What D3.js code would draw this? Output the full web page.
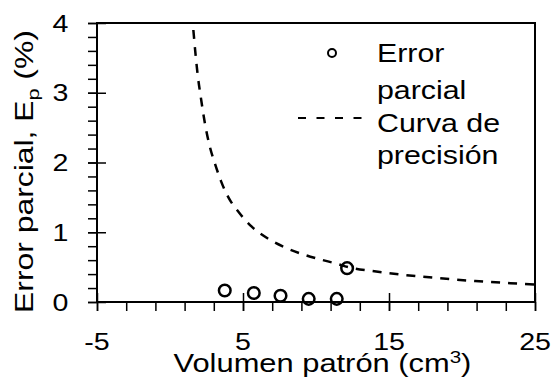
<!DOCTYPE html>
<html><head><meta charset="utf-8">
<script src="https://cdn.jsdelivr.net/npm/d3@7"></script>
<style>
html,body{margin:0;padding:0;background:#fff;}
text{font-family:"Liberation Sans",Arial,sans-serif;fill:#000;}
</style></head>
<body><svg id="c" width="559" height="384"></svg>
<script>
// Data
const volumes = [3.75, 5.74, 7.57, 9.5, 11.42, 12.13];
const errores = [0.165, 0.13, 0.09, 0.045, 0.045, 0.485];
const curvaX = [1.6, 1.75, 1.9, 2.1, 2.4, 2.7, 3.1, 3.5, 4.0, 4.7, 5.6, 6.7, 7.9, 9.0, 10.3, 11.4, 12.2, 14.0, 16.4, 18.5, 20.9, 23.3, 25];
const curvaY = [3.9, 3.55, 3.25, 2.95, 2.55, 2.25, 1.97, 1.73, 1.50, 1.29, 1.08, 0.91, 0.78, 0.69, 0.61, 0.55, 0.50, 0.44, 0.38, 0.34, 0.30, 0.27, 0.25];
const xMajorTicks = [-5, 5, 15, 25];
const xTickLabels = ["-5", "5", "15", "25"];
const xMinorTicks = [-5, -3, -1, 1, 3, 5, 7, 9, 11, 13, 15, 17, 19, 21, 23, 25];
const yMajorTicks = [0, 1, 2, 3, 4];
const yTickLabels = ["0", "1", "2", "3", "4"];
const yMinorTicks = [0, 0.2, 0.4, 0.6, 0.8, 1, 1.2, 1.4, 1.6, 1.8, 2, 2.2, 2.4, 2.6, 2.8, 3, 3.2, 3.4, 3.6, 3.8, 4];
const legendLabels = [["Error", "parcial"], ["Curva de", "precisión"]];

const svg = d3.select("#c");
const L = 97, R = 535, T = 23, B = 302;
const x = d3.scaleLinear().domain([-5, 25]).range([L, R]);
const y = d3.scaleLinear().domain([0, 4]).range([B, T]);
const SX = 1.19; // the reference glyphs are wider than Liberation Sans

function stretchedText(ax, ay, rot, anchor, size, build, target) {
  const g = svg.append("g").attr("transform", `translate(${ax},${ay}) rotate(${rot})`);
  const t = g.append("text").attr("x", 0).attr("y", 0).attr("text-anchor", anchor).attr("font-size", size);
  build(t);
  let sx = SX;
  if (target) { const w = t.node().getBBox().width; sx = target / w; }
  t.attr("transform", `scale(${sx},1)`);
  return t;
}

// curve
const line = d3.line().x((d, i) => x(curvaX[i])).y((d, i) => y(curvaY[i])).curve(d3.curveMonotoneX);
svg.append("path").datum(curvaX).attr("d", line)
  .attr("fill", "none").attr("stroke", "#000").attr("stroke-width", 2.5)
  .attr("stroke-dasharray", "9,8");

// frame
svg.append("rect").attr("x", L).attr("y", T).attr("width", R - L).attr("height", B - T)
  .attr("fill", "none").attr("stroke", "#000").attr("stroke-width", 2);

// y axis minor (outward)
svg.append("g").attr("transform", `translate(${L},0)`)
  .call(d3.axisLeft(y).tickValues(yMinorTicks).tickSize(9).tickFormat(""))
  .call(g => { g.select(".domain").remove(); g.selectAll("line").attr("stroke-width", 1.5); });
// y axis major (crossing)
svg.append("g").attr("transform", `translate(${L + 9},0)`)
  .call(d3.axisLeft(y).tickValues(yMajorTicks).tickSize(18).tickFormat(""))
  .call(g => { g.select(".domain").remove(); g.selectAll("line").attr("stroke-width", 1.5); });
yMajorTicks.forEach((v, i) => stretchedText(68.5, y(v) + 8.5, 0, "end", 24, t => t.text(yTickLabels[i])));

// x axis minor (outward)
svg.append("g").attr("transform", `translate(0,${B})`)
  .call(d3.axisBottom(x).tickValues(xMinorTicks).tickSize(9).tickFormat(""))
  .call(g => { g.select(".domain").remove(); g.selectAll("line").attr("stroke-width", 1.5); });
// x axis major (crossing)
svg.append("g").attr("transform", `translate(0,${B - 9})`)
  .call(d3.axisBottom(x).tickValues(xMajorTicks).tickSize(18).tickFormat(""))
  .call(g => { g.select(".domain").remove(); g.selectAll("line").attr("stroke-width", 1.5); });
xMajorTicks.forEach((v, i) => stretchedText(x(v), 349.5, 0, "middle", 24, t => t.text(xTickLabels[i])));

// points
svg.append("g").selectAll("circle").data(volumes).join("circle")
  .attr("cx", d => x(d)).attr("cy", (d, i) => y(errores[i])).attr("r", 5.8)
  .attr("fill", "none").attr("stroke", "#000").attr("stroke-width", 2.5);

// axis titles
stretchedText(322.5, 372, 0, "middle", 25.5, t => {
  t.append("tspan").text("Volumen patrón (cm");
  t.append("tspan").attr("font-size", 17).attr("dy", -9).text("3");
  t.append("tspan").attr("dy", 9).text(")");
}, 298);

stretchedText(33, 171.5, -90, "middle", 25, t => {
  t.append("tspan").text("Error parcial, E");
  t.append("tspan").attr("font-size", 17).attr("dy", 6).text("p");
  t.append("tspan").attr("dy", -6).text(" (%)");
}, 283);

// legend
svg.append("circle").attr("cx", 332).attr("cy", 53).attr("r", 4).attr("fill", "none").attr("stroke", "#000").attr("stroke-width", 2);
svg.append("line").attr("x1", 298).attr("x2", 362).attr("y1", 118).attr("y2", 118)
  .attr("stroke", "#000").attr("stroke-width", 2).attr("stroke-dasharray", "8,10.5");
const lines = [[legendLabels[0][0], 62], [legendLabels[0][1], 98.5], [legendLabels[1][0], 131.5], [legendLabels[1][1], 164]];
lines.forEach(d => stretchedText(377, d[1], 0, "start", 25.5, t => t.text(d[0])));
</script></body></html>
